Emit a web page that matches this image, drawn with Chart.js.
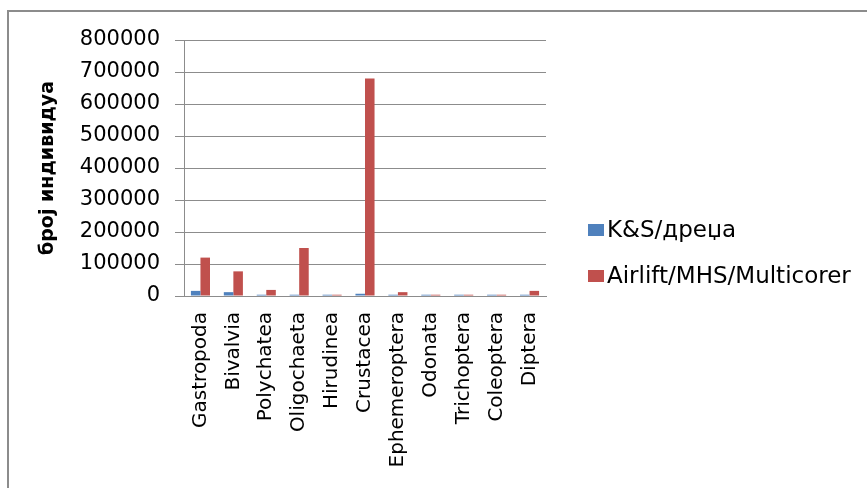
<!DOCTYPE html>
<html>
<head>
<meta charset="utf-8">
<script src="https://cdn.jsdelivr.net/npm/chart.js@4"></script>
<style>
    body { margin: 0; background: #fff; }
    #frame { position: absolute; left: 7px; top: 10px; width: 880px; height: 500px;
             border-top: 2px solid #8c8c8c; border-left: 2px solid #8c8c8c; }
    #chart { position: absolute; left: 0; top: 0; }
</style>
</head>
<body>
<div id="frame"></div>
<canvas id="chart" width="867" height="488"></canvas>
<script>
// ============================= data

const taxa = ['Gastropoda', 'Bivalvia', 'Polychatea', 'Oligochaeta', 'Hirudinea', 'Crustacea',
              'Ephemeroptera', 'Odonata', 'Trichoptera', 'Coleoptera', 'Diptera']
const ksDrega = [16000, 12000, 4000, 4000, 4000, 7000, 4000, 4000, 4000, 4000, 4000]
const airlift = [120000, 77000, 19000, 150000, 4000, 680000, 12000, 4000, 4000, 4000, 16000]
const yTicks = [0, 100000, 200000, 300000, 400000, 500000, 600000, 700000, 800000]

const FONT = 'DejaVu Sans'
const GRID = '#8c8c8c'

// ============================= legend drawn beside the plot (built-in one gets squeezed)

const sideLegend = {
    id: 'sideLegend',
    afterDraw: (chart) => {
        const ctx = chart.ctx
        const x = chart.chartArea.right + 42
        ctx.save()
        ctx.font = `23px "${FONT}"`
        ctx.textBaseline = 'middle'
        chart.data.datasets.forEach((ds, i) => {
            const y = 230 + i * 46
            ctx.fillStyle = ds.backgroundColor
            ctx.fillRect(x, y - 6, 16, 12)
            ctx.fillStyle = '#000'
            ctx.fillText(ds.label, x + 19, y + 1)
        })
        ctx.restore()
    }
}

// ============================= builds the chart

new Chart(document.getElementById('chart'), {
    type: 'bar',
    data: {
        labels: taxa,
        datasets: [
            { label: 'K&S/дреџа', data: ksDrega, backgroundColor: '#4f81bd' },
            { label: 'Airlift/MHS/Multicorer', data: airlift, backgroundColor: '#c0504d' }
        ]
    },
    options: {
        responsive: false,
        animation: false,
        layout: { padding: { top: 40, bottom: 22, left: 0, right: 321 } },
        datasets: { bar: { categoryPercentage: 0.58, barPercentage: 1 } },
        plugins: {
            tooltip: { enabled: false },
            legend: { display: false }
        },
        scales: {
            x: {
                grid: { display: false, drawTicks: false },
                border: { color: GRID, width: 1 },
                ticks: { color: '#000', minRotation: 90, maxRotation: 90, padding: 16, autoSkip: false,
                         font: { family: FONT, size: 20 } },
                afterFit: s => { s.height = 170 }
            },
            y: {
                min: 0, max: 800000,
                afterBuildTicks: s => { s.ticks = yTicks.map(v => ({ value: v })) },
                grid: { color: GRID, tickLength: 9 },
                border: { color: GRID, width: 1 },
                ticks: { color: '#000', padding: 15, font: { family: FONT, size: 21 },
                         callback: v => String(v) },
                title: { display: true, text: 'број индивидуа', color: '#000',
                         font: { family: FONT, size: 19, weight: 'bold' },
                         padding: { top: 37, bottom: 0 } },
                afterFit: s => { s.width = 184 }
            }
        }
    },
    plugins: [sideLegend]
})
</script>
</body>
</html>
